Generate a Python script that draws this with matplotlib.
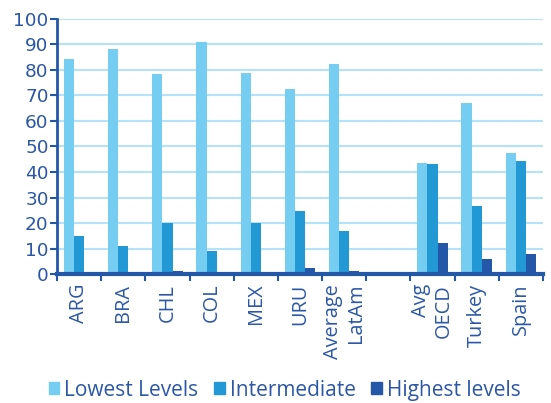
import matplotlib
matplotlib.use("Agg")
import matplotlib.pyplot as plt
import numpy as np
from matplotlib.patches import Patch

categories = ["ARG", "BRA", "CHL", "COL", "MEX", "URU", "Average\nLatAm", "", "Avg\nOECD", "Turkey", "Spain"]
lowest = [84.3, 88.2, 78.4, 91.0, 78.8, 72.5, 82.4, 0, 43.5, 67.1, 47.5]
intermediate = [14.9, 11.0, 20.0, 9.0, 20.0, 24.7, 16.9, 0, 43.1, 26.7, 44.3]
highest = [0.5, 0.4, 1.2, 0.0, 0.5, 2.4, 1.3, 0, 12.2, 5.9, 7.8]
series_names = ["Lowest Levels", "Intermediate", "Highest levels"]
yticks = [0, 10, 20, 30, 40, 50, 60, 70, 80, 90, 100]

c_light = "#75CDF2"
c_mid = "#2299D5"
c_dark = "#2457A8"
txt = "#2B57A6"
grid_c = "#B5E2F6"

plt.rcParams['font.family'] = ['Open Sans', 'DejaVu Sans']

fig = plt.figure(figsize=(5.51, 4.03), dpi=100)
ax = fig.add_axes([0.1034, 0.320, 0.882, 0.633])

x = np.arange(len(categories))
w = 0.23
ax.bar(x - w, lowest, w, color=c_light, zorder=3)
ax.bar(x, intermediate, w, color=c_mid, zorder=3)
ax.bar(x + w, highest, w, color=c_dark, zorder=3)

ax.set_xlim(-0.5, len(categories) - 0.5)
ax.set_ylim(0, 100)
ax.set_yticks(yticks)
ax.set_yticklabels([str(v) for v in yticks], family=['DejaVu Sans'])
ax.yaxis.grid(True, color=grid_c, linewidth=1.5, zorder=0)
ax.set_axisbelow(True)

ax.set_xticks(np.arange(len(categories) + 1) - 0.5, minor=False)
ax.set_xticklabels([])
ax.set_xticks(x, minor=True)
ax.set_xticklabels(categories, minor=True, rotation=90, ha='center', va='top',
                   multialignment='right')
ax.tick_params(axis='x', which='minor', length=0, pad=7, labelsize=14.3, labelcolor=txt)
ax.tick_params(axis='x', which='major', length=5, width=1.5, color=c_dark, direction='out')
ax.tick_params(axis='y', length=5, width=1.5, color=c_dark, labelsize=13.3, labelcolor=txt, pad=1)

for s in ['top', 'right']:
    ax.spines[s].set_visible(False)
ax.spines['left'].set_color(c_dark)
ax.spines['left'].set_linewidth(2)
ax.spines['bottom'].set_color(c_dark)
ax.spines['bottom'].set_linewidth(3)
ax.spines['bottom'].set_zorder(4)

handles = [Patch(color=c) for c in (c_light, c_mid, c_dark)]
leg = fig.legend(handles, series_names, loc='center', bbox_to_anchor=(0.517, 0.032), ncol=3,
                 frameon=False, fontsize=15, handlelength=0.5, handleheight=0.5,
                 handletextpad=0.25, columnspacing=0.75, borderpad=0, borderaxespad=0)
for t in leg.get_texts():
    t.set_color(txt)

fig.savefig("out.png", dpi=100)
